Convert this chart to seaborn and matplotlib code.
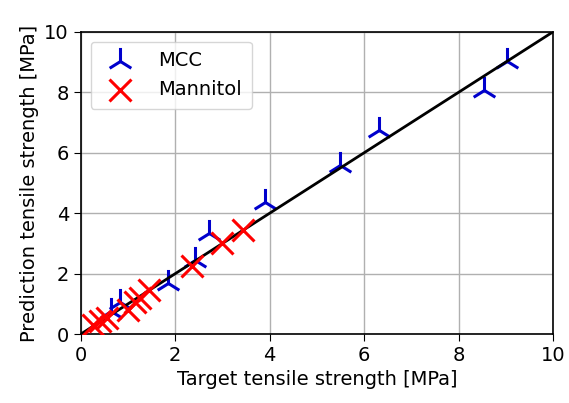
import matplotlib
matplotlib.use("Agg")
import matplotlib.pyplot as plt
import seaborn as sns
import pandas as pd

mcc_target = [0.65, 0.83, 1.84, 2.42, 2.72, 3.90, 5.49, 6.32, 8.54, 9.02]
mcc_pred = [0.75, 1.07, 1.68, 2.45, 3.33, 4.38, 5.60, 6.75, 8.06, 9.05]

man_target = [0.25, 0.40, 0.55, 1.00, 1.15, 1.25, 1.45, 2.36, 2.98, 3.44]
man_pred = [0.30, 0.42, 0.52, 0.80, 1.05, 1.20, 1.45, 2.25, 3.00, 3.45]

ticks = [0, 2, 4, 6, 8, 10]

df_mcc = pd.DataFrame({"target": mcc_target, "pred": mcc_pred})
df_man = pd.DataFrame({"target": man_target, "pred": man_pred})

sns.set_style("ticks")
plt.rcParams["font.family"] = ["DejaVu Sans"]
plt.rcParams["text.color"] = "black"
plt.rcParams["axes.labelcolor"] = "black"

fig = plt.figure(figsize=(5.69, 4.03), dpi=100)
ax = fig.add_axes([0.142, 0.171, 0.830, 0.750])

sns.scatterplot(data=df_mcc, x="target", y="pred", marker="2", s=380, color="#0000cc",
                linewidth=2.2, label="MCC", ax=ax, zorder=2)
ax.plot([0, 10], [0, 10], color="black", lw=2, zorder=3)
sns.scatterplot(data=df_man, x="target", y="pred", marker="x", s=250, color="red",
                linewidth=2.2, label="Mannitol", ax=ax, zorder=4)

ax.set_xlim(0, 10)
ax.set_ylim(0, 10)
ax.set_xticks(ticks)
ax.set_yticks(ticks)
ax.grid(True, color="#b0b0b0", lw=1)
ax.set_axisbelow(True)
for s in ax.spines.values():
    s.set_color("black")
    s.set_linewidth(1.2)
ax.tick_params(labelsize=14, colors="black", length=5)
ax.set_xlabel("Target tensile strength [MPa]", fontsize=14)
ax.set_ylabel("Prediction tensile strength [MPa]", fontsize=14)
ax.legend(loc="upper left", fontsize=14, frameon=True, fancybox=True, framealpha=0.8,
          edgecolor="#cccccc", borderpad=0.5, handletextpad=1.0)

fig.savefig("out.png", dpi=100)
